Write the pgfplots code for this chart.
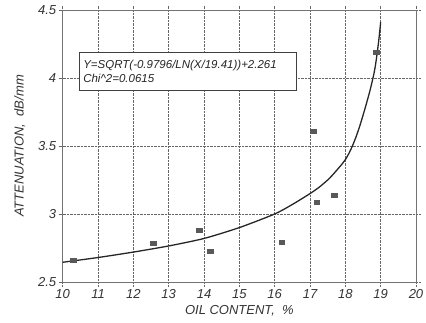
\documentclass[border=0pt]{standalone}
\usepackage{fontspec}
\setmainfont{Liberation Sans}
\usepackage{pgfplots}
\pgfplotsset{compat=1.18}
\begin{document}
\begin{tikzpicture}
\begin{axis}[
  scale only axis,
  width=353.3pt, height=272pt,
  xmin=10, xmax=20, ymin=2.5, ymax=4.5,
  xtick={10,11,...,20},
  ytick={2.5,3,3.5,4,4.5},
  /pgf/number format/assume math mode=true,
  tick label style={font=\fontsize{13}{15}\selectfont\itshape, text=black!80},
  yticklabel style={/pgf/number format/fixed, xshift=1pt},
  label style={font=\fontsize{13}{15}\selectfont\itshape, text=black!80},
  xlabel={OIL CONTENT,\ \ \%},
  ylabel={ATTENUATION,\ \ dB/mm},
  xlabel style={at={(axis description cs:0.5,0)}, anchor=north, yshift=-20pt},
  ylabel style={at={(axis description cs:0,0.5)}, anchor=south, yshift=34pt},
  grid=major,
  major grid style={densely dotted, black!60, line width=0.5pt},
  tick align=outside,
  major tick length=4pt,
  tick style={black!60, densely dotted, line width=0.5pt},
  axis line style={black!55, line width=0.9pt},
  clip=false,
]
\addplot[black!85, line width=1.3pt, smooth, tension=0.4] coordinates {
(10,2.645) (11,2.68) (12,2.72) (13,2.765) (14,2.82) (15,2.90) (16,3.00)
(16.5,3.07) (17,3.15) (17.25,3.195) (17.5,3.25) (17.65,3.29) (17.8,3.335)
(17.9,3.365) (18.0,3.40) (18.1,3.445) (18.2,3.50) (18.3,3.565) (18.4,3.64)
(18.5,3.725) (18.6,3.815) (18.7,3.91) (18.8,4.02) (18.85,4.09) (18.9,4.18)
(18.95,4.285) (19.0,4.41)
};
\addplot[only marks, mark=square*, mark size=2pt, mark options={xscale=1.4, fill=black!65, draw=black!65}] coordinates {
(10.29,2.66) (12.56,2.785) (13.87,2.88) (14.17,2.73) (16.2,2.79)
(17.19,3.085) (17.69,3.14) (17.09,3.61) (18.88,4.19)
};
\node[draw=black!75, line width=0.7pt, fill=white, anchor=north west, align=left,
  text width=209pt, minimum height=38pt, inner xsep=4pt, inner ysep=3pt,
  font=\fontsize{11.5}{14}\selectfont\itshape, text=black!85]
  at (axis cs:10.46,4.19)
  {Y=SQRT(-0.9796/LN(X/19.41))+2.261\\Chi\textasciicircum 2=0.0615};
\end{axis}
\pgfresetboundingbox
\path (-62.7pt,-41pt) rectangle (363.3pt,282pt);
\end{tikzpicture}
\end{document}
